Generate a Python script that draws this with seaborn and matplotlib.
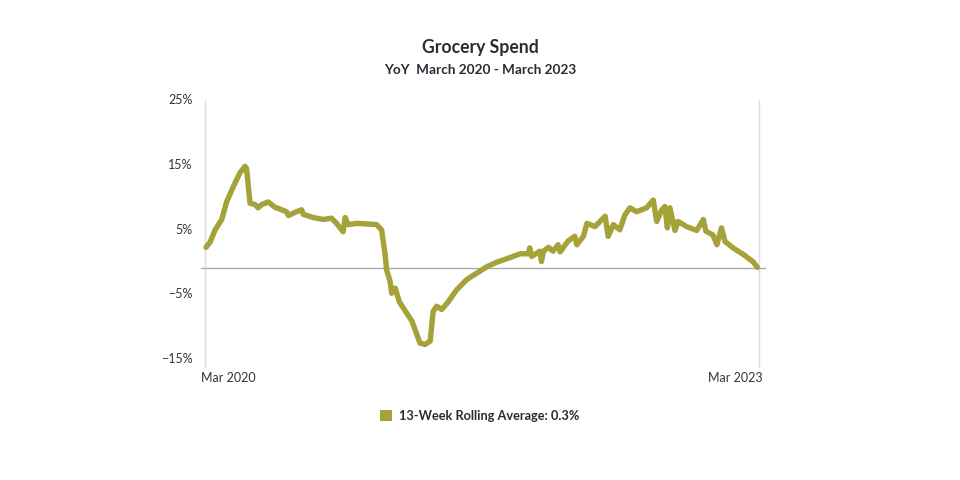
import pandas as pd
import matplotlib
matplotlib.use("Agg")
import matplotlib.pyplot as plt
import matplotlib.transforms as mtransforms
from matplotlib.patches import Patch
import seaborn as sns

# days since 2020-03-01, and YoY grocery spend (%)
days = [2, 10, 20, 33, 43, 56, 69, 79, 82, 89, 99, 105, 112, 125, 138, 161, 165,
        178, 191, 194, 214, 234, 250, 260, 273, 277, 283, 300, 320, 339, 349, 356,
        359, 366, 369, 376, 384, 409, 425, 435, 445, 451, 458, 468, 481, 497, 517,
        537, 557, 577, 599, 623, 639, 642, 646, 662, 665, 669, 679, 688, 698, 702,
        718, 731, 735, 748, 755, 771, 791, 797, 807, 820, 830, 840, 853, 873, 886,
        893, 903, 909, 914, 919, 929, 935, 952, 972, 985, 990, 1004, 1012, 1021,
        1028, 1044, 1064, 1083, 1092]
yoy = [3.2, 4.0, 5.9, 7.5, 10.3, 12.6, 14.7, 15.7, 15.4, 10.0, 9.8, 9.3, 9.8, 10.2,
       9.4, 8.7, 8.1, 8.6, 9.0, 8.3, 7.8, 7.5, 7.7, 6.9, 5.6, 7.8, 6.7, 6.9, 6.8,
       6.7, 5.9, 2.1, -0.3, -2.1, -3.9, -3.1, -5.2, -8.2, -11.6, -11.8, -11.3, -6.7,
       -5.9, -6.4, -5.2, -3.4, -1.8, -0.8, 0.2, 0.9, 1.5, 2.2, 2.2, 3.1, 1.8, 2.6,
       1.0, 2.6, 3.2, 2.6, 3.6, 2.5, 4.2, 4.9, 3.6, 4.9, 6.9, 6.4, 8.0, 4.9, 6.7,
       5.9, 8.2, 9.3, 8.7, 9.3, 10.5, 7.2, 9.0, 9.5, 6.2, 9.3, 5.8, 7.2, 6.4, 5.8,
       7.5, 5.7, 5.1, 3.6, 6.2, 4.1, 3.1, 2.1, 1.0, 0.1]
x_ticks = ["2020-03-01", "2023-03-01"]
x_tick_labels = ["Mar 2020", "Mar 2023"]
y_ticks = [-15, -5, 5, 15, 25]
legend_label = "13-Week Rolling Average: 0.3%"

start = pd.Timestamp("2020-03-01")
df = pd.DataFrame({"date": start + pd.to_timedelta(days, unit="D"), "yoy": yoy})

sns.set_theme(style="white")
plt.rcParams["font.family"] = ["Lato", "DejaVu Sans"]

line_color = "#a6a23a"
text_color = "#2b2b36"

fig = plt.figure(figsize=(9.6, 4.8), dpi=100)
ax = fig.add_axes([201 / 960, 1 - 368 / 480, 565 / 960, 268 / 480])

tick_dates = pd.to_datetime(x_ticks)
for d in tick_dates:
    ax.axvline(d, color="#dddddd", lw=1, zorder=0)
ax.axhline(0, color="#aaaaaa", lw=1, zorder=1)

sns.lineplot(data=df, x="date", y="yoy", ax=ax, color=line_color, lw=3.9,
             solid_joinstyle="round", solid_capstyle="round", zorder=2)

ax.set_xlim(tick_dates[0] - pd.Timedelta(days=8), tick_dates[1] + pd.Timedelta(days=14))
ax.set_ylim(-15.44, 25.95)
for s in ax.spines.values():
    s.set_visible(False)
ax.set_xlabel("")
ax.set_ylabel("")

ax.set_xticks(tick_dates)
ax.set_xticklabels(x_tick_labels)
ax.set_yticks(y_ticks)
ax.set_yticklabels([f"{v}%".replace("-", "\u2212") for v in y_ticks])
ax.tick_params(axis="both", length=0, labelsize=9, labelcolor="#33333d")
ax.tick_params(axis="x", pad=3)
ax.tick_params(axis="y", pad=6)

# y labels sit a little above their gridline positions
up = mtransforms.ScaledTranslation(0, 0.07, fig.dpi_scale_trans)
for lab in ax.get_yticklabels():
    lab.set_transform(lab.get_transform() + up)
xl = ax.get_xticklabels()
xl[0].set_ha("left")
xl[0].set_transform(xl[0].get_transform() + mtransforms.ScaledTranslation(-0.04, 0, fig.dpi_scale_trans))
xl[1].set_ha("right")
xl[1].set_transform(xl[1].get_transform() + mtransforms.ScaledTranslation(0.04, 0, fig.dpi_scale_trans))

fig.text(0.5, 1 - 47 / 480, "Grocery Spend", ha="center", va="center",
         fontsize=12.7, fontweight="bold", color=text_color)
fig.text(0.5, 1 - 70 / 480, "YoY  March 2020 - March 2023", ha="center", va="center",
         fontsize=9.8, fontweight="bold", color=text_color)

handle = Patch(facecolor=line_color, edgecolor="none")
leg = fig.legend([handle], [legend_label], loc="center", bbox_to_anchor=(0.5, 1 - 416 / 480),
                 frameon=False, handlelength=0.9, handleheight=0.9, handletextpad=0.6,
                 prop={"weight": "bold", "size": 9.2})
for t in leg.get_texts():
    t.set_color(text_color)

fig.savefig("out.png", dpi=100, facecolor="white")
